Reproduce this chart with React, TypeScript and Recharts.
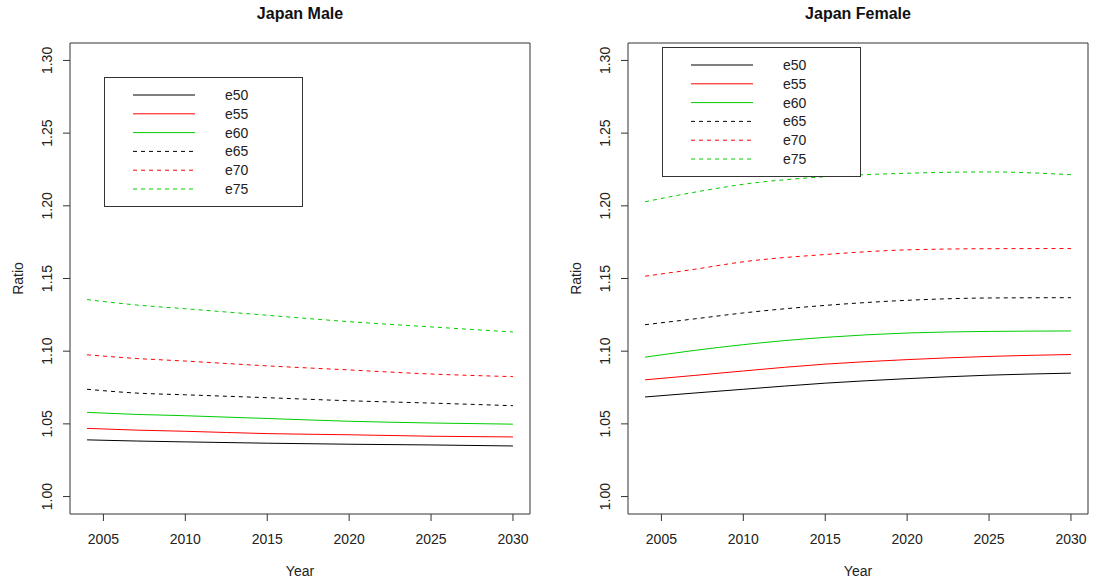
import React from 'react';
import {
  LineChart, Line, XAxis, YAxis, Legend, ReferenceArea,
} from 'recharts';

// years (2004 start, then roughly every 5 years)
const years = [2004, 2007, 2010, 2015, 2020, 2025, 2030];

const maleE50 = [1.0390, 1.0382, 1.0376, 1.0367, 1.0360, 1.0355, 1.0348];
const maleE55 = [1.0469, 1.0457, 1.0449, 1.0433, 1.0425, 1.0415, 1.0410];
const maleE60 = [1.0579, 1.0565, 1.0556, 1.0537, 1.0518, 1.0506, 1.0498];
const maleE65 = [1.0738, 1.0712, 1.0700, 1.0680, 1.0659, 1.0643, 1.0625];
const maleE70 = [1.0975, 1.0950, 1.0932, 1.0899, 1.0871, 1.0843, 1.0825];
const maleE75 = [1.1355, 1.1318, 1.1292, 1.1247, 1.1203, 1.1167, 1.1132];

const femaleE50 = [1.0685, 1.0712, 1.0738, 1.0780, 1.0811, 1.0835, 1.0849];
const femaleE55 = [1.0803, 1.0833, 1.0864, 1.0911, 1.0942, 1.0964, 1.0977];
const femaleE60 = [1.0959, 1.1005, 1.1045, 1.1095, 1.1125, 1.1136, 1.1139];
const femaleE65 = [1.1182, 1.1222, 1.1263, 1.1315, 1.1350, 1.1366, 1.1368];
const femaleE70 = [1.1516, 1.1563, 1.1615, 1.1665, 1.1697, 1.1705, 1.1706];
const femaleE75 = [1.2028, 1.2093, 1.2148, 1.2200, 1.2224, 1.2233, 1.2214];

const xTicks = [2005, 2010, 2015, 2020, 2025, 2030];
const yTicks = [1.0, 1.05, 1.1, 1.15, 1.2, 1.25, 1.3];

const SERIES = [
  { key: 'e50', color: '#000000', dash: undefined },
  { key: 'e55', color: '#FF0000', dash: undefined },
  { key: 'e60', color: '#00CD00', dash: undefined },
  { key: 'e65', color: '#000000', dash: '4 4' },
  { key: 'e70', color: '#FF0000', dash: '4 4' },
  { key: 'e75', color: '#00CD00', dash: '4 4' },
];

// R style extended axis ranges (4% padding)
const X_DOMAIN: [number, number] = [2002.96, 2031.04];
const Y_DOMAIN: [number, number] = [0.988, 1.312];

const FONT = '"Liberation Sans", Arial, sans-serif';
const INK = '#333';

function buildRows(cols: number[][]) {
  return years.map((year, i) => {
    const row: Record<string, number> = { year };
    SERIES.forEach((s, j) => { row[s.key] = cols[j][i]; });
    return row;
  });
}

const maleRows = buildRows([maleE50, maleE55, maleE60, maleE65, maleE70, maleE75]);
const femaleRows = buildRows([femaleE50, femaleE55, femaleE60, femaleE65, femaleE70, femaleE75]);

function XTick(props: any) {
  const { x, y, payload } = props;
  return (
    <text x={x} y={y + 18} textAnchor="middle" dominantBaseline="central" fontSize={14} fill="#222">
      {payload.value}
    </text>
  );
}

function YTick(props: any) {
  const { x, y, payload } = props;
  const cx = x - 16;
  return (
    <text x={cx} y={y} transform={`rotate(-90 ${cx} ${y})`} textAnchor="middle"
      dominantBaseline="central" fontSize={14} fill="#222">
      {Number(payload.value).toFixed(2)}
    </text>
  );
}

function LegendBox() {
  return (
    <div style={{
      width: 199, height: 130, border: `1px solid ${INK}`, boxSizing: 'border-box',
      background: '#fff',
    }}>
      <svg width={197} height={128} style={{ display: 'block' }}>
        {SERIES.map((s, i) => {
          const y = 17 + i * 18.8;
          return (
            <g key={s.key}>
              <line x1={28} x2={90} y1={y} y2={y} stroke={s.color} strokeWidth={1}
                strokeDasharray={s.dash} />
              <text x={120} y={y} dominantBaseline="central" fontSize={14} fill="#222"
                fontFamily={FONT}>{s.key}</text>
            </g>
          );
        })}
      </svg>
    </div>
  );
}

function Panel({ title, rows, left, legendTop }: {
  title: string; rows: Record<string, number>[]; left: number; legendTop: number;
}) {
  return (
    <div style={{ position: 'absolute', left, top: 0, width: 540, height: 584 }}>
      <div style={{
        position: 'absolute', left: 70, width: 460, top: 5, textAlign: 'center',
        fontWeight: 'bold', fontSize: 16, color: '#111', zIndex: 2,
      }}>{title}</div>
      <LineChart width={540} height={584} data={rows}
        margin={{ top: 43, right: 10, bottom: 0, left: 10 }}>
        <XAxis dataKey="year" type="number" domain={X_DOMAIN} ticks={xTicks}
          allowDataOverflow axisLine={false} tickSize={7} tickMargin={0}
          tickLine={{ stroke: INK }} tick={<XTick />} height={70}
          label={{
            content: (p: any) => {
              const vb = p.viewBox;
              return (
                <text x={vb.x + vb.width / 2} y={571} textAnchor="middle"
                  dominantBaseline="central" fontSize={14} fill="#222">Year</text>
              );
            },
          }}
        />
        <YAxis type="number" domain={Y_DOMAIN} ticks={yTicks} allowDataOverflow
          axisLine={false} tickSize={7} tickMargin={0} tickLine={{ stroke: INK }}
          tick={<YTick />} width={60}
          label={{
            content: (p: any) => {
              const vb = p.viewBox;
              const cy = vb.y + vb.height / 2;
              return (
                <text x={18} y={cy} transform={`rotate(-90 18 ${cy})`} textAnchor="middle"
                  dominantBaseline="central" fontSize={14} fill="#222">Ratio</text>
              );
            },
          }}
        />
        <ReferenceArea x1={X_DOMAIN[0]} x2={X_DOMAIN[1]} y1={Y_DOMAIN[0]} y2={Y_DOMAIN[1]}
          fill="none" stroke={INK} strokeWidth={1} ifOverflow="visible" />
        {SERIES.map((s) => (
          <Line key={s.key} dataKey={s.key} name={s.key} type="monotone" stroke={s.color}
            strokeWidth={1} strokeDasharray={s.dash} dot={false} activeDot={false}
            isAnimationActive={false} />
        ))}
        <Legend layout="vertical" align="center" verticalAlign="middle"
          wrapperStyle={{ left: 104, top: legendTop, width: 199, height: 130 }}
          content={<LegendBox />} />
      </LineChart>
    </div>
  );
}

export default function App() {
  return (
    <div style={{
      position: 'absolute', left: 0, top: 0, width: 1097, height: 584,
      background: '#fff', fontFamily: FONT,
    }}>
      <Panel title="Japan Male" rows={maleRows} left={0} legendTop={77} />
      <Panel title="Japan Female" rows={femaleRows} left={558} legendTop={47} />
    </div>
  );
}
